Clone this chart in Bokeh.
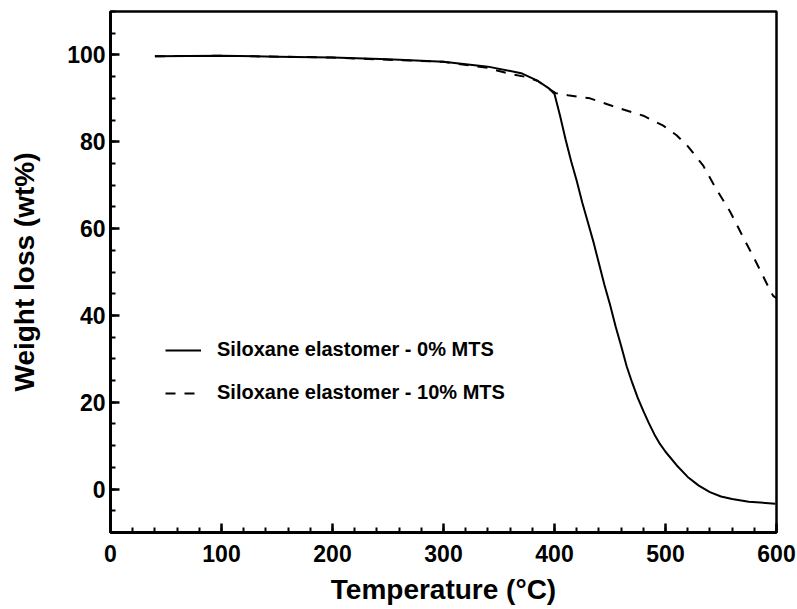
from bokeh.plotting import figure
from bokeh.models import Range1d, SingleIntervalTicker, Legend, LegendItem
from bokeh.embed import file_html
from bokeh.resources import INLINE

# Data
temp_0 = [40, 100, 150, 200, 250, 300, 340, 370, 385, 395, 400, 405, 410, 415, 420, 425, 430,
          435, 440, 445, 450, 455, 460, 465, 470, 475, 480, 485, 490, 495, 500, 510, 520,
          530, 540, 550, 560, 575, 590, 599]
wt_0 = [99.7, 99.8, 99.6, 99.4, 99.0, 98.4, 97.3, 95.8, 94.0, 92.3, 91.0, 86.0, 80.5, 75.5, 71.0, 66.0, 61.5,
        57.0, 52.0, 47.0, 42.5, 37.5, 33.0, 28.3, 24.5, 21.0, 18.0, 15.2, 12.6, 10.4, 8.6, 5.5, 2.8,
        0.8, -0.7, -1.7, -2.3, -2.9, -3.2, -3.4]

temp_10 = [40, 100, 200, 300, 340, 360, 375, 385, 393, 401, 412, 432, 455, 480, 498, 510,
           520, 534, 545, 558, 570, 581, 593, 597, 600]
wt_10 = [99.7, 99.8, 99.4, 98.4, 97.0, 95.6, 94.9, 94.0, 92.5, 91.2, 90.7, 90.0, 88.0, 86.0, 83.7, 81.5,
         79.0, 74.5, 69.4, 64.0, 58.0, 52.6, 46.4, 44.5, 44.0]

series_labels = ["Siloxane elastomer - 0% MTS", "Siloxane elastomer - 10% MTS"]
x_label = "Temperature (°C)"
y_label = "Weight loss (wt%)"

FONT = "Liberation Sans"

p = figure(width=797, height=609, output_backend="svg", toolbar_location=None,
           x_range=Range1d(0, 600), y_range=Range1d(-10, 110),
           min_border_left=110, min_border_right=21, min_border_top=11, min_border_bottom=77)
p.background_fill_color = "white"
p.border_fill_color = "white"
p.grid.visible = False
p.outline_line_color = "black"
p.outline_line_width = 2.5

r0 = p.line(temp_0, wt_0, line_color="black", line_width=2)
r1 = p.line(temp_10, wt_10, line_color="black", line_width=2, line_dash="10 9")

p.xaxis.ticker = SingleIntervalTicker(interval=100, num_minor_ticks=5)
p.yaxis.ticker = SingleIntervalTicker(interval=20, num_minor_ticks=4)

for ax in (p.xaxis[0], p.yaxis[0]):
    ax.axis_line_width = 3
    ax.axis_line_color = "black"
    ax.major_tick_in = 9
    ax.major_tick_out = 0
    ax.minor_tick_in = 5
    ax.minor_tick_out = 0
    ax.major_tick_line_width = 2.5
    ax.minor_tick_line_width = 2
    ax.major_label_text_font = FONT
    ax.major_label_text_font_style = "bold"
    ax.major_label_text_font_size = "23px"
    ax.major_label_text_color = "black"
    ax.axis_label_text_font = FONT
    ax.axis_label_text_font_style = "bold"
    ax.axis_label_text_font_size = "28px"
    ax.axis_label_text_color = "black"

p.xaxis.axis_label = x_label
p.yaxis.axis_label = y_label
p.xaxis.major_label_standoff = 12
p.yaxis.major_label_standoff = 5
p.xaxis.axis_label_standoff = 9
p.yaxis.axis_label_standoff = 24

legend = Legend(items=[LegendItem(label=series_labels[0], renderers=[r0]),
                       LegendItem(label=series_labels[1], renderers=[r1])],
                location=(55, 128))
legend.padding = 0
legend.margin = 0
legend.border_line_alpha = 0
legend.background_fill_alpha = 0
legend.glyph_width = 36
legend.glyph_height = 20
legend.label_height = 20
legend.spacing = 20
legend.label_standoff = 16
legend.label_text_font = FONT
legend.label_text_font_style = "bold"
legend.label_text_font_size = "20px"
legend.label_text_color = "black"
p.add_layout(legend, "center")

open("out.html", "w").write(file_html(p, INLINE))
